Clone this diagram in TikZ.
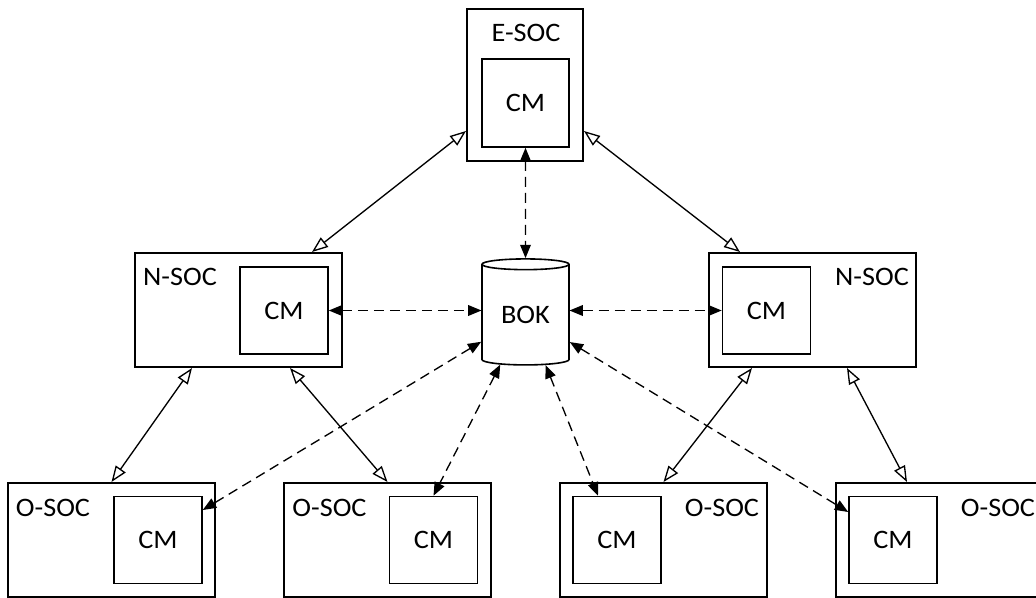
\documentclass[tikz,border=0pt]{standalone}
\usepackage{fontspec}
\setmainfont{Carlito}[FakeStretch=1.06]
\usetikzlibrary{arrows.meta,shapes.geometric,calc}

\begin{document}
\begin{tikzpicture}[x=0.75pt,y=-0.75pt,
  every node/.style={font=\fontsize{20}{22}\selectfont},
  soc/.style={draw,line width=1.5pt,inner sep=0pt,minimum width=155.25pt,minimum height=85.5pt},
  cmbox/.style={draw,line width=1.2pt,inner sep=0pt,minimum width=66pt,minimum height=65.25pt},
  lbl/.style={anchor=base,inner sep=0pt},
  link/.style={line width=1pt,{Triangle[open,length=12pt,width=9pt]}-{Triangle[open,length=12pt,width=9pt]}},
  sync/.style={line width=1pt,dash pattern=on 7.5pt off 4.5pt,{Triangle[length=10pt,width=8pt]}-{Triangle[length=10pt,width=8pt]}}]
  \useasboundingbox (0,0) rectangle (1036,598);

  % top level
  \node[soc,minimum width=87pt,minimum height=114pt] (esoc) at (525,85) {};
  \node[cmbox,minimum width=65.25pt,minimum height=66pt] (ecm) at (525.5,103) {CM};
  \node[lbl] (elbl) at (526,42) {E-SOC};

  % knowledge base
  \node[draw,cylinder,shape border rotate=90,aspect=0.22,line width=1.2pt,inner sep=0pt,
    minimum width=65.25pt,minimum height=79.5pt] (bok) at (525.5,315) {BOK};

  % national level
  \node[soc] (nl) at (238.5,310) {};
  \node[cmbox] (nlcm) at (284,310.5) {CM};
  \node[lbl] (nllbl) at (180,286) {N-SOC};
  \node[soc] (nr) at (812,310) {};
  \node[cmbox] (nrcm) at (766.5,310.5) {CM};
  \node[lbl] (nrlbl) at (872,286) {N-SOC};

  % operational level
  \node[soc] (o1) at (111.5,540) {};
  \node[cmbox] (o1cm) at (158,540) {CM};
  \node[lbl] (o1lbl) at (53,517) {O-SOC};
  \node[soc] (o2) at (387.5,540) {};
  \node[cmbox] (o2cm) at (433.5,540) {CM};
  \node[lbl] (o2lbl) at (329.5,517) {O-SOC};
  \node[soc] (o3) at (663.5,540) {};
  \node[cmbox] (o3cm) at (617,540) {CM};
  \node[lbl] (o3lbl) at (722,517) {O-SOC};
  \node[soc] (o4) at (939.5,540) {};
  \node[cmbox] (o4cm) at (893,540) {CM};
  \node[lbl] (o4lbl) at (998,517) {O-SOC};

  % hierarchy
  \draw[link] ($(esoc.west)+(0,46)$) -- ($(nl.north)+(73.5,0)$);
  \draw[link] ($(esoc.east)+(0,46)$) -- ($(nr.north)+(-72,0)$);
  \draw[link] ($(nl.south)+(-46.5,0)$) -- (o1.north);
  \draw[link] ($(nl.south)+(51.5,0)$) -- (o2.north);
  \draw[link] ($(nr.south)+(-60,0)$) -- (o3.north);
  \draw[link] ($(nr.south)+(35,0)$) -- ($(o4.north)+(-32.5,0)$);

  % exchange with BOK
  \draw[sync] (ecm.south) -- (bok);
  \draw[sync] (nlcm.east) -- ($(nlcm.east -| bok.center)+(-44,0)$);
  \draw[sync] ($(nrcm.west -| bok.center)+(44,0)$) -- (nrcm.west);
  \draw[sync] (bok) -- ($(o1cm.east)+(0,-30)$);
  \draw[sync] (bok) -- (o2cm.north);
  \draw[sync] (bok) -- ($(o3cm.north)+(-19,0)$);
  \draw[sync] (bok) -- ($(o4cm.west)+(0,-28)$);
\end{tikzpicture}
\end{document}
